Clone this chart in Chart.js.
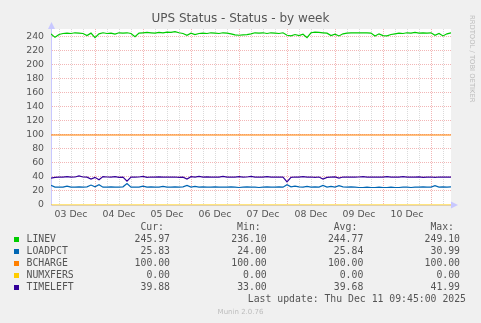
<!DOCTYPE html>
<html><head><meta charset="utf-8">
<script src="https://cdn.jsdelivr.net/npm/chart.js@4/dist/chart.umd.min.js"></script>
<style>html,body{margin:0;padding:0;background:#f0f0f0;}canvas{display:block}</style>
</head><body>
<canvas id="c" width="481" height="323" style="width:481px;height:323px"></canvas>
<script>
// time axis: hours since 03 Dec 00:00, one sample every 2 hours
const startHour = 2, stepHours = 2, endHour = 202;
const dayLabels = ['03 Dec','04 Dec','05 Dec','06 Dec','07 Dec','08 Dec','09 Dec','10 Dec'];
const yLabelValues = [0,20,40,60,80,100,120,140,160,180,200,220,240];

const seriesNames = ['LINEV','LOADPCT','BCHARGE','NUMXFERS','TIMELEFT'];
const seriesColors = ['#00cc00','#0066b3','#ff8000','#ffcc00','#330099'];
const curValues = [245.97, 25.83, 100.00, 0.00, 39.88];
const minValues = [236.10, 24.00, 100.00, 0.00, 33.00];
const avgValues = [244.77, 25.84, 100.00, 0.00, 39.68];
const maxValues = [249.10, 30.99, 100.00, 0.00, 41.99];
const lastUpdate = 'Last update: Thu Dec 11 09:45:00 2025';

const LINEV = [244.5,239.5,243.5,245,245.5,245,246,245.5,245,242,245.5,239,244.5,246,245,245.5,244,246,245.5,246,
245,240.5,245.5,246,246.5,246,245.5,246.5,246,247,246.5,247.5,246,245,242.5,245.5,243.5,245,245.5,245,
246,245.5,245,246,245.5,244.5,243,242.5,243,243.5,244.5,246,245.5,246,245,246,245.5,245,246,242.5,
241.5,243.5,242,244,239,246,247,246.5,246,245.5,242,244,241.5,244.5,245.5,246,246,246,246,246,
245.5,241.5,244.5,242,241.5,243.5,244.5,245.5,245,246,245.5,246.5,245.5,246,245.5,246,242.5,245,241.5,244.5,246];
const LOADPCT = [28,25.5,25.5,25.5,27,25.5,25.5,25.8,25.5,26,28.5,26,29,25.5,25.5,25.8,25.5,25.5,26,30.5,
25.5,25.5,25.5,27,25.5,26,25.5,25.5,26.5,25.5,25.5,25.8,25.5,26,28,25.5,26.5,25.5,26,25.5,
25.5,26,25.5,25.5,25.5,26,25.5,25,25.5,26,25.5,25.5,25,25.5,26,25.5,25.5,26,25.5,29,
26,27,26,25.5,26.5,25.5,26,25.5,28,25.5,26.5,25.5,27.5,26,25.5,26,25.5,25,25,25.5,
25,25,25.5,25,25,25.5,25,25,25.5,25.5,25,25.5,25.5,26,25.5,25.5,27.5,25.5,26,25.5,25.8];
const BCHARGE = [100,100,100,100,100,100,100,100,100,100,100,100,100,100,100,100,100,100,100,100,
100,100,100,100,100,100,100,100,100,100,100,100,100,100,100,100,100,100,100,100,
100,100,100,100,100,100,100,100,100,100,100,100,100,100,100,100,100,100,100,100,
100,100,100,100,100,100,100,100,100,100,100,100,100,100,100,100,100,100,100,100,
100,100,100,100,100,100,100,100,100,100,100,100,100,100,100,100,100,100,100,100,100];
const NUMXFERS = [0,0,0,0,0,0,0,0,0,0,0,0,0,0,0,0,0,0,0,0,
0,0,0,0,0,0,0,0,0,0,0,0,0,0,0,0,0,0,0,0,
0,0,0,0,0,0,0,0,0,0,0,0,0,0,0,0,0,0,0,0,
0,0,0,0,0,0,0,0,0,0,0,0,0,0,0,0,0,0,0,0,
0,0,0,0,0,0,0,0,0,0,0,0,0,0,0,0,0,0,0,0,0];
const TIMELEFT = [38.5,39.5,39.8,39.8,40.5,39.8,40,41.5,40,39.8,37,39.5,36,40.5,40,39.8,40.5,39.5,39.8,34,
40,39.8,40,40.8,39.5,40,39.8,40.2,39.8,40,39.8,40,39.5,39.8,37,40.5,39.8,40.8,39.8,40.2,
39.8,40,39.8,41,39.8,40,39.8,40.5,39.8,40,40.8,39.8,40,39.8,40.5,39.8,40,39.8,40,33,
39.5,40,39.8,40.5,39.8,40,39.5,40,37,39.5,39.8,40.2,38.5,40,39.8,40,39.8,40,40.5,39.8,
40,39.8,40,39.8,40.5,39.8,40,39.8,40.5,39.8,40,39.8,40.2,39.5,39.8,40,39.5,40,39.8,40,39.9];

const seriesValues = [LINEV, LOADPCT, BCHARGE, NUMXFERS, TIMELEFT];

const toPoints = arr => arr.map((v, i) => ({x: startHour + i * stepHours, y: v}));

const GRID_MINOR = '#dadada';
const GRID_MAJOR = '#f2b6b6';
const TEXT = '#555';

const decor = {
  id: 'decor',
  beforeDraw(chart) {
    const {ctx, chartArea: a} = chart;
    ctx.save();
    ctx.fillStyle = '#f0f0f0';
    ctx.fillRect(0, 0, chart.width, chart.height);
    ctx.fillStyle = '#ffffff';
    ctx.fillRect(a.left, a.top, a.right - a.left, a.bottom - a.top);
    ctx.restore();
  },
  afterDraw(chart) {
    const {ctx, chartArea: a} = chart;
    ctx.save();
    // title
    ctx.fillStyle = TEXT;
    ctx.font = '12px "DejaVu Sans"';
    ctx.textAlign = 'center';
    ctx.textBaseline = 'middle';
    ctx.fillText('UPS Status - Status - by week', 240.5, 19);
    // axis arrows
    ctx.fillStyle = '#c8c8ff';
    ctx.beginPath();
    ctx.moveTo(48, a.top); ctx.lineTo(55, a.top); ctx.lineTo(51.5, a.top - 7); ctx.closePath(); ctx.fill();
    ctx.beginPath();
    ctx.moveTo(a.right, a.bottom - 3.5); ctx.lineTo(a.right, a.bottom + 3.5); ctx.lineTo(a.right + 7, a.bottom); ctx.closePath(); ctx.fill();
    // watermark
    ctx.save();
    ctx.translate(468, 15);
    ctx.rotate(Math.PI / 2);
    ctx.fillStyle = '#bcbcbc';
    ctx.font = '6.8px "DejaVu Sans"';
    ctx.textAlign = 'left';
    ctx.textBaseline = 'bottom';
    ctx.fillText('RRDTOOL / TOBI OETIKER', 0, 0);
    ctx.restore();
    // legend table
    ctx.font = '9.8px "DejaVu Sans Mono"';
    ctx.textBaseline = 'middle';
    ctx.fillStyle = TEXT;
    const cols = [170, 266.7, 363.3, 460];
    const heads = ['Cur:', 'Min:', 'Avg:', 'Max:'];
    const y0 = 227.3, dy = 12;
    ctx.textAlign = 'right';
    heads.forEach((h, k) => ctx.fillText(h, cols[k] - 6, y0));
    seriesNames.forEach((name, r) => {
      const y = y0 + dy * (r + 1);
      ctx.fillStyle = seriesColors[r];
      ctx.fillRect(14, Math.round(y) - 2, 5, 5);
      ctx.fillStyle = TEXT;
      ctx.textAlign = 'left';
      ctx.fillText(name, 26.5, y);
      ctx.textAlign = 'right';
      [curValues, minValues, avgValues, maxValues].forEach((arr, k) => {
        ctx.fillText(arr[r].toFixed(2), cols[k], y);
      });
    });
    ctx.textAlign = 'right';
    ctx.fillText(lastUpdate, 466, y0 + dy * 6);
    ctx.fillStyle = '#bdbdbd';
    ctx.font = '7px "DejaVu Sans"';
    ctx.textAlign = 'center';
    ctx.fillText('Munin 2.0.76', 240.5, 312.5);
    ctx.restore();
  }
};

new Chart(document.getElementById('c'), {
  type: 'line',
  data: {
    datasets: seriesNames.map((n, k) => ({
      label: n,
      data: toPoints(seriesValues[k]),
      borderColor: seriesColors[k],
      backgroundColor: seriesColors[k],
      borderWidth: 1.2,
      pointRadius: 0,
      tension: 0,
      fill: false,
      order: 4 - k
    }))
  },
  options: {
    responsive: false,
    animation: false,
    devicePixelRatio: 1,
    layout: {padding: {left: 0, right: 30, top: 29, bottom: 0}},
    plugins: {legend: {display: false}, title: {display: false}, tooltip: {enabled: false}},
    scales: {
      x: {
        type: 'linear',
        min: startHour, max: endHour,
        afterBuildTicks(scale) {
          const t = [];
          for (let h = 6; h < endHour; h += 6) t.push({value: h});
          scale.ticks = t;
        },
        afterFit(scale) { scale.height = 118; },
        ticks: {
          autoSkip: false, maxRotation: 0, padding: 4,
          color: TEXT, font: {family: 'DejaVu Sans', size: 9.33},
          callback(v) { const d = (v - 12) / 24; return Number.isInteger(d) && dayLabels[d] ? dayLabels[d] : ''; }
        },
        grid: {
          drawTicks: false,
          color: c => (c.tick && c.tick.value % 24 === 0) ? GRID_MAJOR : GRID_MINOR,
          lineWidth: 1
        },
        border: {display: true, color: '#e0d0b0', width: 1, dash: [1, 1]}
      },
      y: {
        type: 'linear',
        min: 0, max: 251.4,
        afterBuildTicks(scale) {
          const t = [];
          for (let v = 0; v <= 250; v += 10) t.push({value: v});
          scale.ticks = t;
        },
        afterFit(scale) { scale.width = 51; },
        ticks: {
          padding: 7, color: TEXT, font: {family: 'DejaVu Sans', size: 9.33},
          callback(v) { return yLabelValues.includes(v) ? String(v) : ''; }
        },
        grid: {
          drawTicks: false,
          color: c => (c.tick && c.tick.value === 0) ? 'rgba(0,0,0,0)' : (c.tick && c.tick.value % 20 === 0 ? GRID_MAJOR : GRID_MINOR),
          lineWidth: 1
        },
        border: {display: true, color: '#c8c8ff', width: 1, dash: [1, 1]}
      }
    }
  },
  plugins: [decor]
});
</script>
</body></html>
